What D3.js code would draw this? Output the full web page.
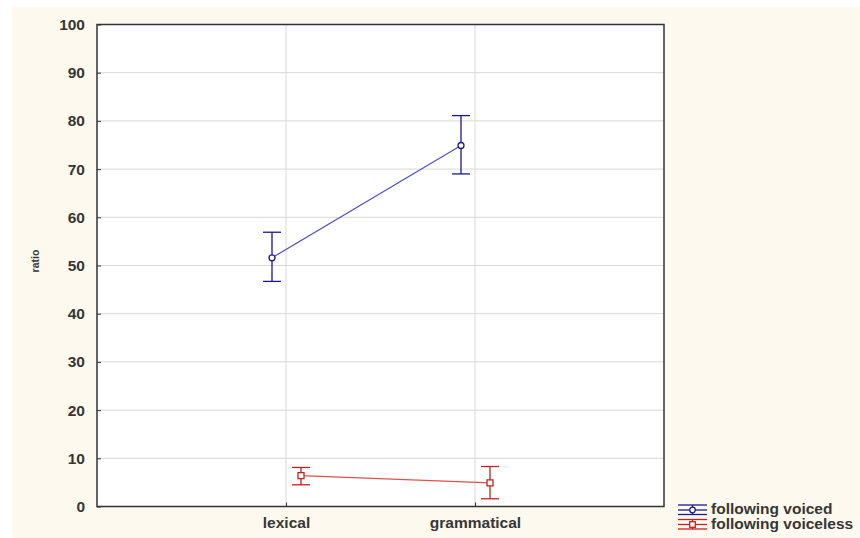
<!DOCTYPE html>
<html>
<head>
<meta charset="utf-8">
<script src="https://cdn.jsdelivr.net/npm/d3@7"></script>
<style>
  html, body { margin: 0; padding: 0; background: #ffffff; }
  svg { display: block; }
  text { font-family: "Liberation Sans", Arial, sans-serif; fill: #333; }
</style>
</head>
<body>
<svg id="chart" width="860" height="538"></svg>
<script>
// Category labels along the x axis
const categories = ["lexical", "grammatical"];
// Series names (legend)
const seriesNames = ["following voiced", "following voiceless"];
// Means per category, one array per series
const voicedMean = [51.6, 74.9];
const voicelessMean = [6.4, 4.9];
// Error bar upper / lower limits
const voicedHigh = [56.9, 81.1];
const voicedLow = [46.7, 69.0];
const voicelessHigh = [8.1, 8.3];
const voicelessLow = [4.5, 1.6];
// Y axis ticks
const yTicks = [0, 10, 20, 30, 40, 50, 60, 70, 80, 90, 100];

const series = [
  { name: seriesNames[0], mean: voicedMean, hi: voicedHigh, lo: voicedLow, color: "#1a1a8c", line: "#4f4fc0", shape: "circle", dx: -14 },
  { name: seriesNames[1], mean: voicelessMean, hi: voicelessHigh, lo: voicelessLow, color: "#c42020", line: "#e05050", shape: "square", dx: 15 }
];

const svg = d3.select("#chart");
const W = 860, H = 538;
const plot = { left: 97, top: 24.5, right: 664, bottom: 506.5 };
const labelFont = { family: "Liberation Sans", size: 15.5, weight: "bold", color: "#363636" };

// Cream page panel
svg.append("rect").attr("x", 12).attr("y", 7).attr("width", W - 12).attr("height", H - 7).attr("fill", "#fdf9ee");
// White plotting area
svg.append("rect").attr("x", plot.left).attr("y", plot.top)
  .attr("width", plot.right - plot.left).attr("height", plot.bottom - plot.top).attr("fill", "#ffffff");

const x = d3.scalePoint().domain(categories).range([plot.left, plot.right]).padding(1);
const y = d3.scaleLinear().domain([0, 100]).range([plot.bottom, plot.top]);

// Grid lines
const grid = svg.append("g");
grid.selectAll("line.h").data(yTicks.filter(t => t > 0 && t < 100)).join("line")
  .attr("x1", plot.left).attr("x2", plot.right)
  .attr("y1", d => y(d)).attr("y2", d => y(d))
  .attr("stroke", "#d8d8d8").attr("stroke-width", 1);
grid.selectAll("line.v").data(categories).join("line")
  .attr("x1", d => x(d)).attr("x2", d => x(d))
  .attr("y1", plot.top).attr("y2", plot.bottom)
  .attr("stroke", "#d8d8d8").attr("stroke-width", 1);

function styleLabels(sel) {
  sel.attr("font-size", labelFont.size).attr("font-family", labelFont.family)
    .attr("font-weight", labelFont.weight).style("fill", labelFont.color);
}

// Y axis
const yAxis = svg.append("g").attr("transform", `translate(${plot.left},0)`)
  .call(d3.axisLeft(y).tickValues(yTicks).tickSize(-4).tickPadding(12));
yAxis.select(".domain").remove();
yAxis.selectAll(".tick line").attr("stroke", "#333");
styleLabels(yAxis.selectAll("text"));

// X axis
const xAxis = svg.append("g").attr("transform", `translate(0,${plot.bottom})`)
  .call(d3.axisBottom(x).tickSize(-4).tickPadding(10.5));
xAxis.select(".domain").remove();
xAxis.selectAll(".tick line").attr("stroke", "#333");
styleLabels(xAxis.selectAll("text"));

// Frame
svg.append("rect").attr("x", plot.left).attr("y", plot.top)
  .attr("width", plot.right - plot.left).attr("height", plot.bottom - plot.top)
  .attr("fill", "none").attr("stroke", "#333").attr("stroke-width", 1.5);

// Y axis title
svg.append("text").attr("transform", `translate(39,261) rotate(-90)`)
  .attr("text-anchor", "middle").attr("font-size", 10.5).attr("font-weight", "bold")
  .style("fill", labelFont.color).text("ratio");

// Series: connecting line, error bars, markers
const capW = 9;
series.forEach(s => {
  const px = (c) => x(c) + s.dx;
  const g = svg.append("g");
  const pts = categories.map((c, i) => [px(c), y(s.mean[i])]);
  g.append("path").attr("d", d3.line()(pts)).attr("fill", "none")
    .attr("stroke", s.line).attr("stroke-width", 1.2);
  categories.forEach((c, i) => {
    const cx = px(c);
    g.append("line").attr("x1", cx).attr("x2", cx).attr("y1", y(s.hi[i])).attr("y2", y(s.lo[i]))
      .attr("stroke", s.color).attr("stroke-width", 1.3);
    [s.hi[i], s.lo[i]].forEach(v => {
      g.append("line").attr("x1", cx - capW).attr("x2", cx + capW).attr("y1", y(v)).attr("y2", y(v))
        .attr("stroke", s.color).attr("stroke-width", 1.3);
    });
    if (s.shape === "circle") {
      g.append("circle").attr("cx", cx).attr("cy", y(s.mean[i])).attr("r", 3)
        .attr("fill", "#fff").attr("stroke", s.color).attr("stroke-width", 1.3);
    } else {
      g.append("rect").attr("x", cx - 3).attr("y", y(s.mean[i]) - 3).attr("width", 6).attr("height", 6)
        .attr("fill", "#fff").attr("stroke", s.color).attr("stroke-width", 1.3);
    }
  });
});

// Legend
const legend = svg.append("g").attr("transform", "translate(678,510)");
series.forEach((s, i) => {
  const lg = legend.append("g").attr("transform", `translate(0,${i * 14.5})`);
  const cx = 14.5;
  [-5, 0, 4.5].forEach(dy => {
    lg.append("line").attr("x1", 0).attr("x2", 29).attr("y1", dy).attr("y2", dy)
      .attr("stroke", s.color).attr("stroke-width", 1.3);
  });
  lg.append("line").attr("x1", cx).attr("x2", cx).attr("y1", -5).attr("y2", 4.5)
    .attr("stroke", s.color).attr("stroke-width", 1.3);
  if (s.shape === "circle") {
    lg.append("circle").attr("cx", cx).attr("cy", 0).attr("r", 2.8).attr("fill", "#fff").attr("stroke", s.color).attr("stroke-width", 1.3);
  } else {
    lg.append("rect").attr("x", cx - 2.8).attr("y", -2.8).attr("width", 5.6).attr("height", 5.6).attr("fill", "#fff").attr("stroke", s.color).attr("stroke-width", 1.3);
  }
  const t = lg.append("text").attr("x", 33).attr("y", 4);
  styleLabels(t);
  t.text(s.name);
});
</script>
</body>
</html>
